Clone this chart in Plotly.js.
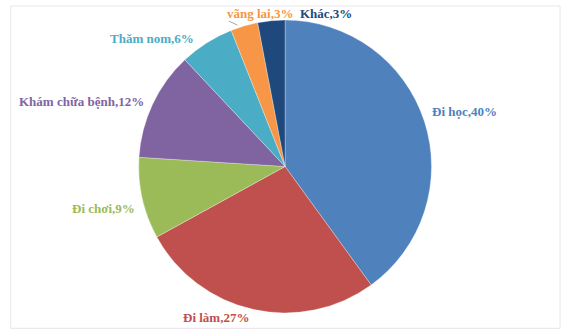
<!DOCTYPE html>
<html>
<head>
<meta charset="utf-8">
<script src="https://cdn.plot.ly/plotly-3.0.1.min.js"></script>
<style>html,body{margin:0;padding:0;background:#fff;}#chart{width:564px;height:335px;}</style>
</head>
<body>
<div id="chart"></div>
<script>
const labels = ["Đi học", "Đi làm", "Đi chơi", "Khám chữa bệnh", "Thăm nom", "vãng lai", "Khác"];
const values = [40, 27, 9, 12, 6, 3, 3];
const colors = ["#4f81bd", "#c0504d", "#9bbb59", "#8064a2", "#4bacc6", "#f79646", "#1f497d"];
const labelPos = [
  [0.823, 0.666], [0.383, 0.051], [0.183, 0.379], [0.144, 0.696],
  [0.270, 0.884], [0.461, 0.960], [0.578, 0.960]
];

const annotations = labels.map((l, i) => ({
  text: "<b>" + l + "," + values[i] + "%</b>",
  x: labelPos[i][0], y: labelPos[i][1], xref: "paper", yref: "paper",
  xanchor: "center", yanchor: "middle", showarrow: false,
  font: {family: "Liberation Serif, Times New Roman, serif", size: 13, color: colors[i]}
}));

Plotly.newPlot("chart", [{
  type: "pie",
  labels: labels,
  values: values,
  sort: false,
  direction: "clockwise",
  rotation: 0,
  textinfo: "none",
  hoverinfo: "label+percent",
  marker: {colors: colors, line: {color: "#ffffff", width: 0.3}},
  domain: {x: [0.241, 0.770], y: [0.066, 0.940]},
  showlegend: false
}], {
  width: 564, height: 335,
  margin: {l: 0, r: 0, t: 0, b: 0},
  paper_bgcolor: "#ffffff",
  annotations: annotations,
  shapes: [
    {type: "rect", xref: "paper", yref: "paper", x0: 0.019, x1: 0.993, y0: 0.02, y1: 0.982,
     line: {color: "#ebe4ec", width: 1}},
    {type: "line", xref: "paper", yref: "paper", x0: 0.406, y0: 0.937, x1: 0.421, y1: 0.925,
     line: {color: "#a6a6a6", width: 1}}
  ]
}, {displayModeBar: false, staticPlot: true});
</script>
</body>
</html>
